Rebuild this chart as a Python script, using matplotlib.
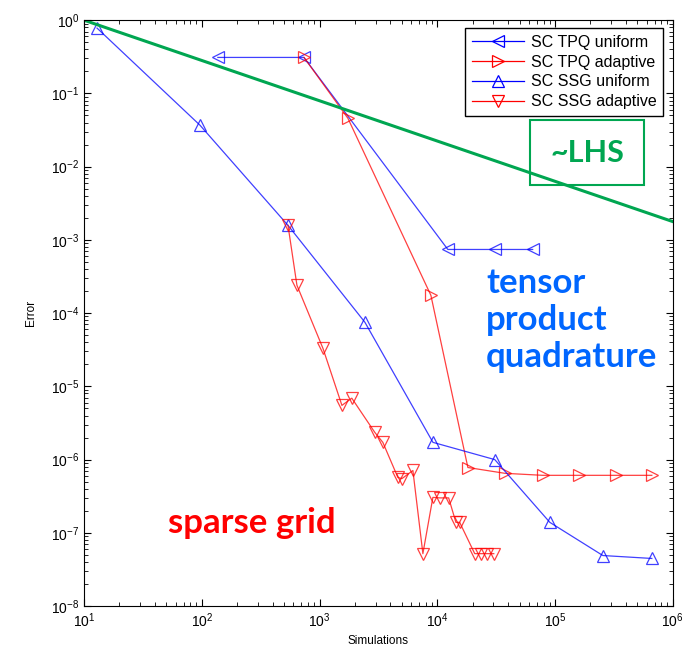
import numpy as np
import matplotlib
matplotlib.use("Agg")
import matplotlib.pyplot as plt
from matplotlib.patches import Rectangle

plt.rcParams['font.family'] = ['Liberation Sans', 'DejaVu Sans']
plt.rcParams['mathtext.fontset'] = 'custom'
plt.rcParams['mathtext.rm'] = 'Liberation Sans'
plt.rcParams['mathtext.it'] = 'Liberation Sans'

# datos
tpq_uni_x = [137, 738, 12300, 30800, 64600]
tpq_uni_y = [0.31, 0.31, 7.4e-4, 7.4e-4, 7.4e-4]

tpq_ada_x = [738, 1742, 8830, 18200, 37500, 78700, 159000, 328000, 664000]
tpq_ada_y = [0.31, 0.0458, 1.75e-4, 7.8e-7, 6.5e-7, 6.1e-7, 6.1e-7, 6.1e-7, 6.1e-7]

ssg_uni_x = [12.9, 96.6, 540, 2430, 9190, 30800, 90400, 255000, 664000]
ssg_uni_y = [0.78, 0.0368, 1.58e-3, 7.5e-5, 1.72e-6, 1.0e-6, 1.39e-7, 4.9e-8, 4.47e-8]

ssg_ada_x = [540, 643, 1070, 1550, 1880, 2950, 3450, 4630, 5010, 6210,
             7550, 9180, 10500, 12500, 14400, 15500, 20800, 23400, 26300, 30200]
ssg_ada_y = [1.58e-3, 2.4e-4, 3.3e-5, 5.5e-6, 6.9e-6, 2.35e-6, 1.72e-6, 5.7e-7, 5.5e-7, 7.1e-7,
             5.2e-8, 3.05e-7, 3.0e-7, 3.0e-7, 1.39e-7, 1.39e-7, 5.2e-8, 5.2e-8, 5.2e-8, 5.2e-8]

lhs_x = [10, 1e6]
lhs_y = [1.0, 10 ** (-0.55 * 5)]

fig = plt.figure(figsize=(6.83, 6.51), dpi=100)
ax = fig.add_axes([0.123, 0.069, 0.862, 0.900])

kw = dict(lw=0.9, ms=8, mfc='none', mew=0.9, alpha=0.75)
ax.plot(tpq_uni_x, tpq_uni_y, '-<', color='blue', label='SC TPQ uniform', **kw)
ax.plot(tpq_ada_x, tpq_ada_y, '->', color='red', label='SC TPQ adaptive', **kw)
ax.plot(ssg_uni_x, ssg_uni_y, '-^', color='blue', label='SC SSG uniform', **kw)
ax.plot(ssg_ada_x, ssg_ada_y, '-v', color='red', label='SC SSG adaptive', **kw)
ax.plot(lhs_x, lhs_y, '-', color='#00A651', lw=2.2)

ax.set_xscale('log')
ax.set_yscale('log')
ax.set_xlim(10, 1e6)
ax.set_ylim(1e-8, 1)
ax.set_xlabel('Simulations', fontsize=8.5, labelpad=4)
ax.set_ylabel('Error', fontsize=8.5, labelpad=10)
ax.tick_params(which='both', direction='in', top=True, right=True, labelsize=10)
ax.tick_params(which='major', length=5)
ax.tick_params(which='minor', length=3)
ax.set_xticks([10, 1e2, 1e3, 1e4, 1e5, 1e6])
ax.set_yticks([10.0 ** k for k in range(-8, 1)])

leg = ax.legend(loc='upper right', fontsize=11.5, fancybox=False, edgecolor='black',
                framealpha=1, borderpad=0.4, handlelength=3.3, labelspacing=0.3,
                handletextpad=0.4, borderaxespad=0, bbox_to_anchor=(0.983, 0.986))
leg.get_frame().set_linewidth(1.0)
for h in leg.legend_handles:
    h.set_alpha(1)

# anotaciones
ax.add_patch(Rectangle((0.757, 0.718), 0.195, 0.111, transform=ax.transAxes,
                       fill=False, edgecolor='#00A651', lw=1.5))
ax.text(0.855, 0.773, '~LHS', transform=ax.transAxes, ha='center', va='center',
        color='#00A651', fontsize=22, fontweight='bold', family='Lato')
ax.text(0.683, 0.488, 'tensor\nproduct\nquadrature', transform=ax.transAxes,
        ha='left', va='center', color='#0066FF', fontsize=25, fontweight='bold',
        family='Lato', linespacing=1.2)
ax.text(0.143, 0.142, 'sparse grid', transform=ax.transAxes, ha='left', va='center',
        color='red', fontsize=25, fontweight='bold', family='Lato')

fig.savefig('out.png', dpi=100)
